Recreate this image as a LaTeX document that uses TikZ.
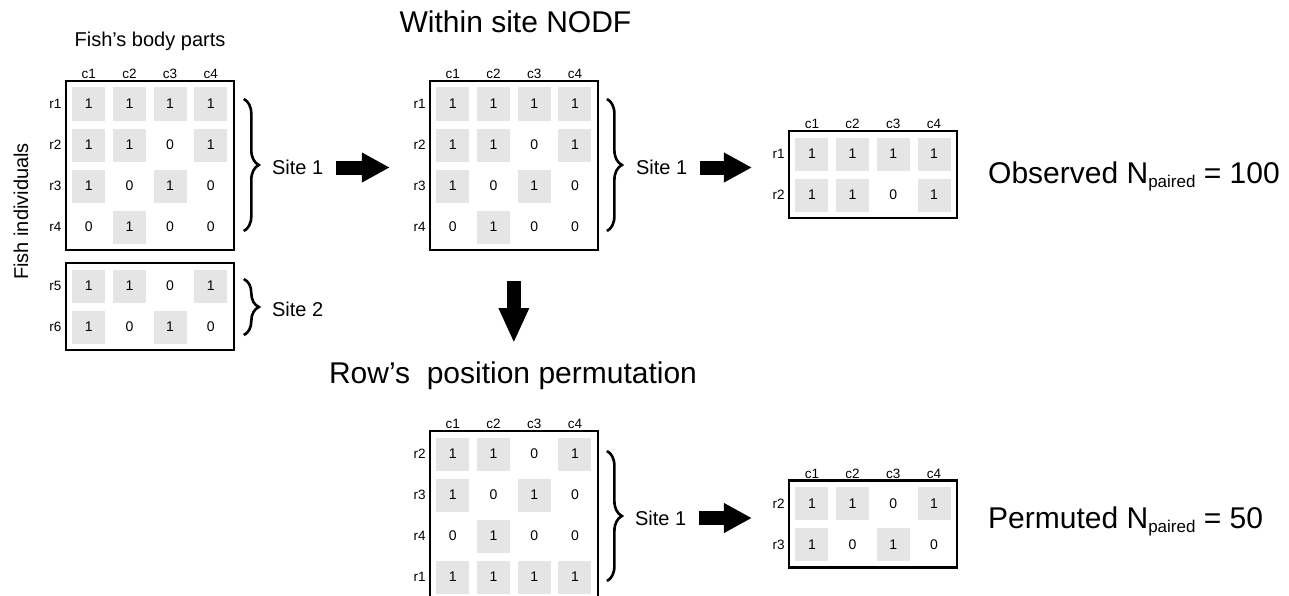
\documentclass[tikz,border=0pt]{standalone}
\usepackage{fontspec}
\setmainfont{Liberation Sans}
\usetikzlibrary{arrows.meta,positioning,matrix,decorations.pathreplacing}
\definecolor{cellgray}{RGB}{229,229,229}

\begin{document}
\begin{tikzpicture}[
  x=1pt, y=-1pt,
  mcell/.style={minimum size=33pt, inner sep=0pt, outer sep=0pt, font=\fontsize{14}{14}\selectfont},
  pcell/.style={fill=cellgray},
  mat/.style={matrix of nodes, draw, line width=2.3pt, inner sep=6.5pt, outer sep=0pt,
              column sep=7.7pt, row sep=8pt, nodes={mcell}},
  collbl/.style={font=\fontsize{13.5}{13.5}\selectfont, inner sep=0pt, anchor=south},
  rowlbl/.style={font=\fontsize{13.5}{13.5}\selectfont, inner sep=0pt, anchor=east},
  sitelbl/.style={font=\fontsize{20}{20}\selectfont, inner sep=0pt, anchor=west},
  bigtitle/.style={font=\fontsize{30}{30}\selectfont, inner sep=0pt},
  axlbl/.style={font=\fontsize{20}{20}\selectfont, inner sep=0pt},
  sitebrace/.style={decorate, decoration={brace, amplitude=15pt}, line width=2.6pt},
  bigarrow/.style={line width=14pt, -{Triangle[length=28pt, width=28pt]}}
]
\useasboundingbox (0,0) rectangle (1289,596);

% all fish, split by site
\matrix (matA) [mat, anchor=north west] at (65.7,81) {
  |[pcell]|1 & |[pcell]|1 & |[pcell]|1 & |[pcell]|1 \\
  |[pcell]|1 & |[pcell]|1 & 0 & |[pcell]|1 \\
  |[pcell]|1 & 0 & |[pcell]|1 & 0 \\
  0 & |[pcell]|1 & 0 & 0 \\
};
\matrix (matB) [mat, below=13pt of matA] {
  |[pcell]|1 & |[pcell]|1 & 0 & |[pcell]|1 \\
  |[pcell]|1 & 0 & |[pcell]|1 & 0 \\
};

% within site
\matrix (matC) [mat, right=196pt of matA] {
  |[pcell]|1 & |[pcell]|1 & |[pcell]|1 & |[pcell]|1 \\
  |[pcell]|1 & |[pcell]|1 & 0 & |[pcell]|1 \\
  |[pcell]|1 & 0 & |[pcell]|1 & 0 \\
  0 & |[pcell]|1 & 0 & 0 \\
};
\matrix (matD) [mat, right=191pt of matC, yshift=-9pt] {
  |[pcell]|1 & |[pcell]|1 & |[pcell]|1 & |[pcell]|1 \\
  |[pcell]|1 & |[pcell]|1 & 0 & |[pcell]|1 \\
};

% permuted rows
\matrix (matE) [mat, below=181pt of matC] {
  |[pcell]|1 & |[pcell]|1 & 0 & |[pcell]|1 \\
  |[pcell]|1 & 0 & |[pcell]|1 & 0 \\
  0 & |[pcell]|1 & 0 & 0 \\
  |[pcell]|1 & |[pcell]|1 & |[pcell]|1 & |[pcell]|1 \\
};
\matrix (matF) [mat, right=191pt of matE, yshift=-8.5pt] {
  |[pcell]|1 & |[pcell]|1 & 0 & |[pcell]|1 \\
  |[pcell]|1 & 0 & |[pcell]|1 & 0 \\
};

% row and column labels
\foreach \m/\rows in {matA/{r1,r2,r3,r4}, matB/{r5,r6}, matC/{r1,r2,r3,r4},
                      matD/{r1,r2}, matE/{r2,r3,r4,r1}, matF/{r2,r3}}
  \foreach \r [count=\i] in \rows
    \node[rowlbl, xshift=-4pt] (\m-\r) at (\m.west |- \m-\i-1) {\r};
\foreach \m in {matA,matC,matD,matE,matF}
  \foreach \j in {1,...,4}
    \node[collbl, yshift=2pt] (\m-c\j) at (\m-1-\j |- \m.north) {c\j};

% braces and site names
\draw[sitebrace] ([xshift=10pt,yshift=-18pt]matA.north east) -- ([xshift=10pt,yshift=19pt]matA.south east);
\draw[sitebrace] ([xshift=10pt,yshift=-16pt]matB.north east) -- ([xshift=10pt,yshift=15pt]matB.south east);
\draw[sitebrace] ([xshift=9pt,yshift=-18pt]matC.north east) -- ([xshift=9pt,yshift=19pt]matC.south east);
\draw[sitebrace] ([xshift=9pt,yshift=-20pt]matE.north east) -- ([xshift=9pt,yshift=19pt]matE.south east);
\node[sitelbl] (siteA) at ([xshift=38pt,yshift=-2pt]matA.east) {Site 1};
\node[sitelbl] (siteB) at ([xshift=38pt,yshift=-3pt]matB.east) {Site 2};
\node[sitelbl] (siteC) at ([xshift=38pt,yshift=-2pt]matC.east) {Site 1};
\node[sitelbl] (siteE) at ([xshift=37pt,yshift=-2.5pt]matE.east) {Site 1};

% titles
\node[axlbl, anchor=base] (parts) at (150,46.5) {Fish’s body parts};
\node[axlbl, rotate=90, anchor=base] (indiv) at (28,211.5) {Fish individuals};
\node[bigtitle, anchor=base] (within) at (515.5,33) {Within site NODF};
\node[bigtitle, anchor=base] (perm) at (513,383) {Row’s\ \ position permutation};
\node[bigtitle, anchor=base west] (obs) at (988,183)
  {Observed N\raisebox{-4pt}{\fontsize{17}{17}\selectfont paired} = 100};
\node[bigtitle, anchor=base west] (pmt) at (988,528)
  {Permuted N\raisebox{-4pt}{\fontsize{17}{17}\selectfont paired} = 50};

% block arrows
\draw[bigarrow, shorten <=13pt, shorten >=40pt] (siteA.east) -- (siteA.east -| matC.west);
\draw[bigarrow, shorten <=13pt, shorten >=37pt] (siteC.east) -- (siteC.east -| matD.west);
\draw[bigarrow, shorten <=13pt, shorten >=37pt] (siteE.east) -- (siteE.east -| matF.west);
\draw[bigarrow, -{Triangle[length=35pt, width=28pt]}, shorten <=31pt, shorten >=18pt] (matC.south) -- (perm.north -| matC.south);
\end{tikzpicture}
\end{document}
